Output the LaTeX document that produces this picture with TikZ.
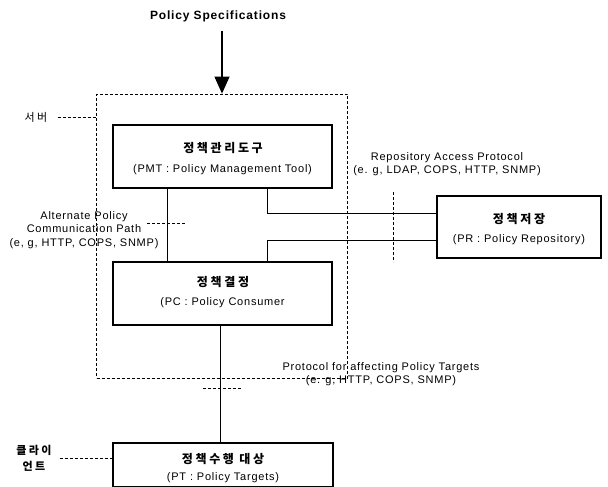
\documentclass[tikz,border=0pt]{standalone}
\usepackage{fontspec}
\setmainfont[LetterSpace=7]{Liberation Sans}
\newfontfamily\kr[LetterSpace=22]{Noto Sans CJK KR}
\usetikzlibrary{arrows.meta,calc}
\tikzset{
  box/.style={draw, line width=1.1pt, minimum width=219pt, inner sep=0pt},
  srvbox/.style={draw, dash pattern=on 3pt off 2pt, line width=0.8pt, minimum width=251pt, minimum height=284pt, inner sep=0pt},
  lead/.style={dash pattern=on 3pt off 2pt, line width=0.8pt},
  conn/.style={line width=0.9pt},
  txt/.style={font=\fontsize{11}{13.5}\selectfont, inner sep=0pt, align=center},
  krt/.style={font=\kr\bfseries\fontsize{12}{13}\selectfont, inner sep=0pt},
}
\begin{document}
\begin{tikzpicture}[x=1pt,y=-1pt]
\useasboundingbox (0,0) rectangle (608,487);
% title and arrow
\node[inner sep=0pt, font=\bfseries\fontsize{12}{15}\selectfont] (spec) at (218,16) {Policy Specifications};
\node[srvbox] (server) at (222,236) {};
\draw[line width=1.2pt, -{Triangle[length=17pt,width=15pt]}] (spec.south) ++(4,9) -- (server.north);
% boxes
\node[box, minimum height=63pt] (pmt) at (222.5,156.5) {};
\node[krt] (pmtk) at (223,148) {정책관리도구};
\node[txt] (pmte) at (222.5,170) {(PMT : Policy Management Tool)};
\node[box, minimum height=63pt] (pc) at (222.5,293.5) {};
\node[krt] (pck) at (223,282) {정책결정};
\node[txt] (pce) at (222.5,303) {(PC : Policy Consumer};
\node[box, minimum width=164pt, minimum height=62pt] (pr) at (519,227) {};
\node[krt] (prk) at (519,219) {정책저장};
\node[txt] (pre) at (519,240) {(PR : Policy Repository)};
\node[box, minimum width=220pt, minimum height=44pt] (pt) at (223,465) {};
\node[krt] (ptk) at (223,459) {정책수행 대상};
\node[txt] (pte) at (223,478) {(PT : Policy Targets)};
% side labels
\node[krt, font=\kr\fontsize{11}{13}\selectfont] (srvl) at (36,117) {서버};
\draw[lead] (srvl.east) ++(10,0) coordinate (s1) -- (s1 -| server.west);
\node[krt, align=center, font=\kr\bfseries\fontsize{11}{16}\selectfont] (cl) at (34,458) {클라이\\언트};
\draw[lead] (cl.east) ++(8,0) coordinate (c1) -- (c1 -| pt.west);
% text labels
\node[txt] (repo) at (447,164) {Repository Access Protocol\\(e. g, LDAP, COPS, HTTP, SNMP)};
\node[txt] (alt) at (84,230) {Alternate Policy\\Communication Path\\(e, g, HTTP, COPS, SNMP)};
\node[txt] (prot) at (381,374) {Protocol for affecting Policy Targets\\(e. g, HTTP, COPS, SNMP)};
% connectors
\coordinate (xa) at (167,0);
\coordinate (xb) at (267,0);
\coordinate (xc) at (220,0);
\draw[conn] (pmt.south -| xa) -- (pc.north -| xa);
\draw[conn] (pmt.south -| xb) |- ($(pr.west)+(0,-14)$);
\draw[conn] (pc.north -| xb) |- ($(pr.west)+(0,13)$);
\draw[conn] (pc.south -| xc) -- (pt.north -| xc);
% protocol markers
\coordinate (m1) at (147,223);
\coordinate (m2) at (185,223);
\draw[lead] (m1) -- (m2);
\coordinate (m3) at (393,192);
\coordinate (m4) at (393,262);
\draw[lead] (m3) -- (m4);
\coordinate (m5) at (203,388);
\coordinate (m6) at (242,388);
\draw[lead] (m5) -- (m6);
\end{tikzpicture}
\end{document}
